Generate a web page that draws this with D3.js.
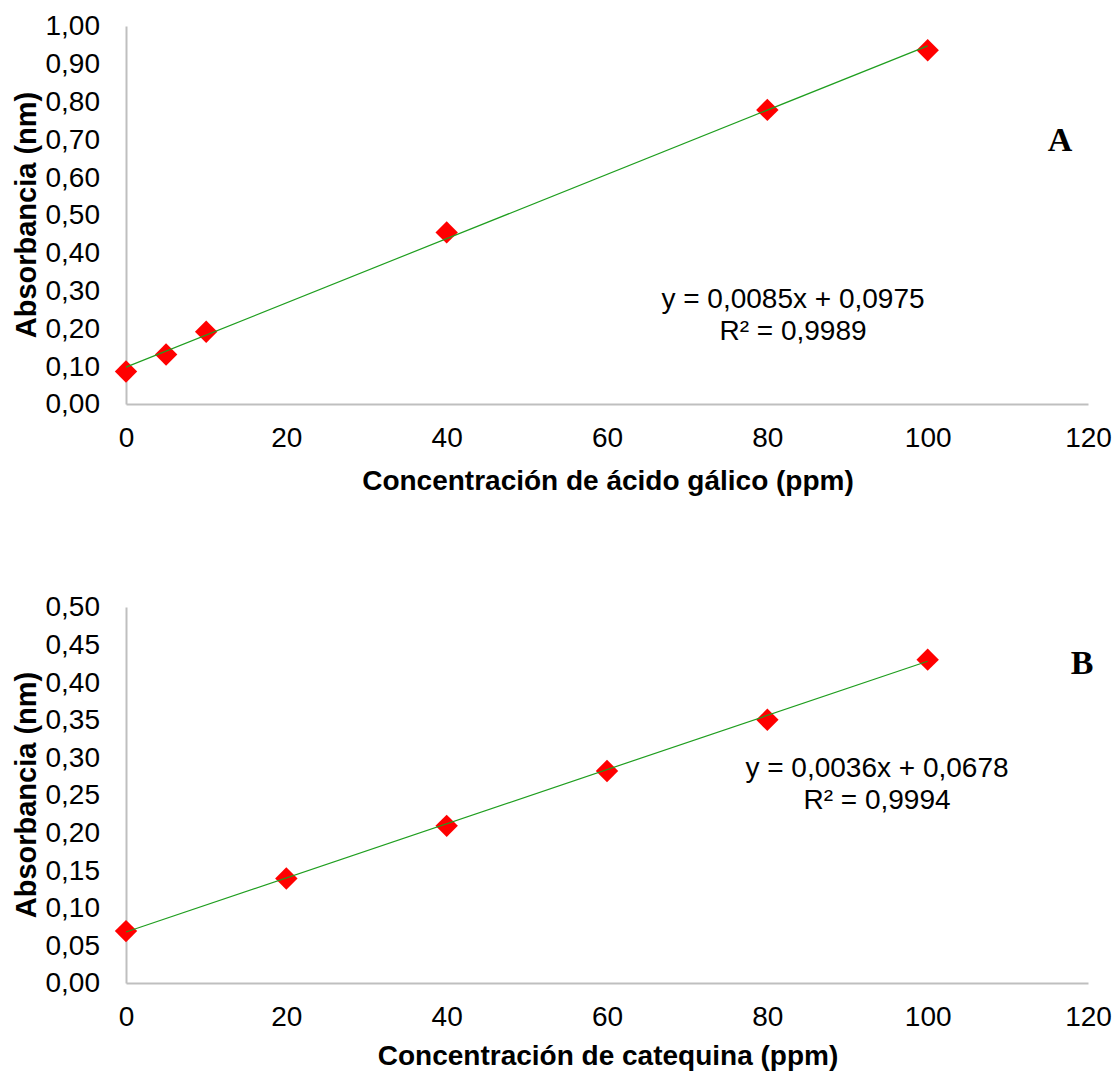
<!DOCTYPE html>
<html>
<head>
<meta charset="utf-8">
<script src="https://cdn.jsdelivr.net/npm/d3@7"></script>
<style>
  body { margin: 0; background: #fff; }
  text { font-family: "Liberation Sans", Arial, sans-serif; fill: #000; }
</style>
</head>
<body>
<div id="chart"></div>
<script>
// panel A: acido galico
const concA = [0, 5, 10, 40, 80, 100];
const absA = [0.086, 0.131, 0.191, 0.454, 0.778, 0.936];
const fitA = { m: 0.0085, b: 0.0975 };
const eqA = ["y = 0,0085x + 0,0975", "R² = 0,9989"];

// panel B: catequina
const concB = [0, 20, 40, 60, 80, 100];
const absB = [0.069, 0.139, 0.209, 0.282, 0.350, 0.430];
const fitB = { m: 0.0036, b: 0.0678 };
const eqB = ["y = 0,0036x + 0,0678", "R² = 0,9994"];

const xTicks = [0, 20, 40, 60, 80, 100, 120];
const yTicksA = d3.range(0, 1.001, 0.1);
const yTicksB = d3.range(0, 0.501, 0.05);

const width = 1119, height = 1072;
const svg = d3.select("#chart").append("svg")
    .attr("width", width)
    .attr("height", height);

const es = d3.formatLocale({ decimal: ",", thousands: ".", grouping: [3], currency: ["", ""] });
const fmt = es.format(".2f");

function panel(cfg) {
    let x = d3.scaleLinear().domain([0, 120]).range([126, 1088]);
    let y = d3.scaleLinear().domain(cfg.yDomain).range([cfg.bottom, cfg.top]);
    let g = svg.append("g");

    g.append("g")
        .attr("transform", `translate(${x(0)},0)`)
        .call(d3.axisLeft(y).tickValues(cfg.yTicks).tickSize(0).tickSizeOuter(0).tickPadding(26).tickFormat(fmt));
    g.append("g")
        .attr("transform", `translate(0,${y(0)})`)
        .call(d3.axisBottom(x).tickValues(xTicks).tickSize(0).tickSizeOuter(0).tickPadding(23));
    g.selectAll(".domain").attr("stroke", "#bfbfbf").attr("stroke-width", 2);
    g.selectAll(".tick text").style("font-size", "28px").style("font-family", "'Liberation Sans', Arial, sans-serif");

    // markers
    let pts = cfg.xs.map((d, i) => ({ x: d, y: cfg.ys[i] }));
    g.selectAll("path.pt").data(pts).enter().append("path")
        .attr("class", "pt")
        .attr("d", d3.symbol().type(d3.symbolDiamond2).size(320))
        .attr("transform", d => `translate(${x(d.x)},${y(d.y)})`)
        .attr("fill", "#ff0000");

    // trend line
    let x0 = d3.min(cfg.xs), x1 = d3.max(cfg.xs);
    g.append("line")
        .attr("x1", x(x0)).attr("y1", y(cfg.fit.m * x0 + cfg.fit.b))
        .attr("x2", x(x1)).attr("y2", y(cfg.fit.m * x1 + cfg.fit.b))
        .attr("stroke", "#1f9e1f")
        .attr("stroke-width", 1.2);

    // equation
    g.selectAll("text.eq").data(cfg.eq).enter().append("text")
        .attr("class", "eq")
        .attr("x", cfg.eqX)
        .attr("y", (d, i) => cfg.eqY + i * 32)
        .attr("text-anchor", "middle")
        .style("font-size", "28px")
        .text(d => d);

    // panel letter
    g.append("text")
        .attr("x", cfg.letterX)
        .attr("y", cfg.letterY)
        .attr("text-anchor", "middle")
        .style("font-family", "'Liberation Serif', 'Times New Roman', serif")
        .style("font-weight", "bold")
        .style("font-size", "34px")
        .text(cfg.letter);

    // axis titles
    g.append("text")
        .attr("x", 608)
        .attr("y", cfg.xTitleY)
        .attr("text-anchor", "middle")
        .style("font-size", "28px")
        .style("font-weight", "bold")
        .text(cfg.xTitle);
    g.append("text")
        .attr("transform", `translate(36,${(cfg.top + cfg.bottom) / 2}) rotate(-90)`)
        .attr("text-anchor", "middle")
        .style("font-size", "29px")
        .style("font-weight", "bold")
        .text("Absorbancia (nm)");
}

panel({
    xs: concA, ys: absA, fit: fitA, eq: eqA,
    yDomain: [0, 1], yTicks: yTicksA, top: 26, bottom: 404,
    eqX: 793, eqY: 308, letter: "A", letterX: 1060, letterY: 151,
    xTitle: "Concentración de ácido gálico (ppm)", xTitleY: 490
});

panel({
    xs: concB, ys: absB, fit: fitB, eq: eqB,
    yDomain: [0, 0.5], yTicks: yTicksB, top: 607, bottom: 983,
    eqX: 877, eqY: 777, letter: "B", letterX: 1082, letterY: 674,
    xTitle: "Concentración de catequina (ppm)", xTitleY: 1065
});
</script>
</body>
</html>
